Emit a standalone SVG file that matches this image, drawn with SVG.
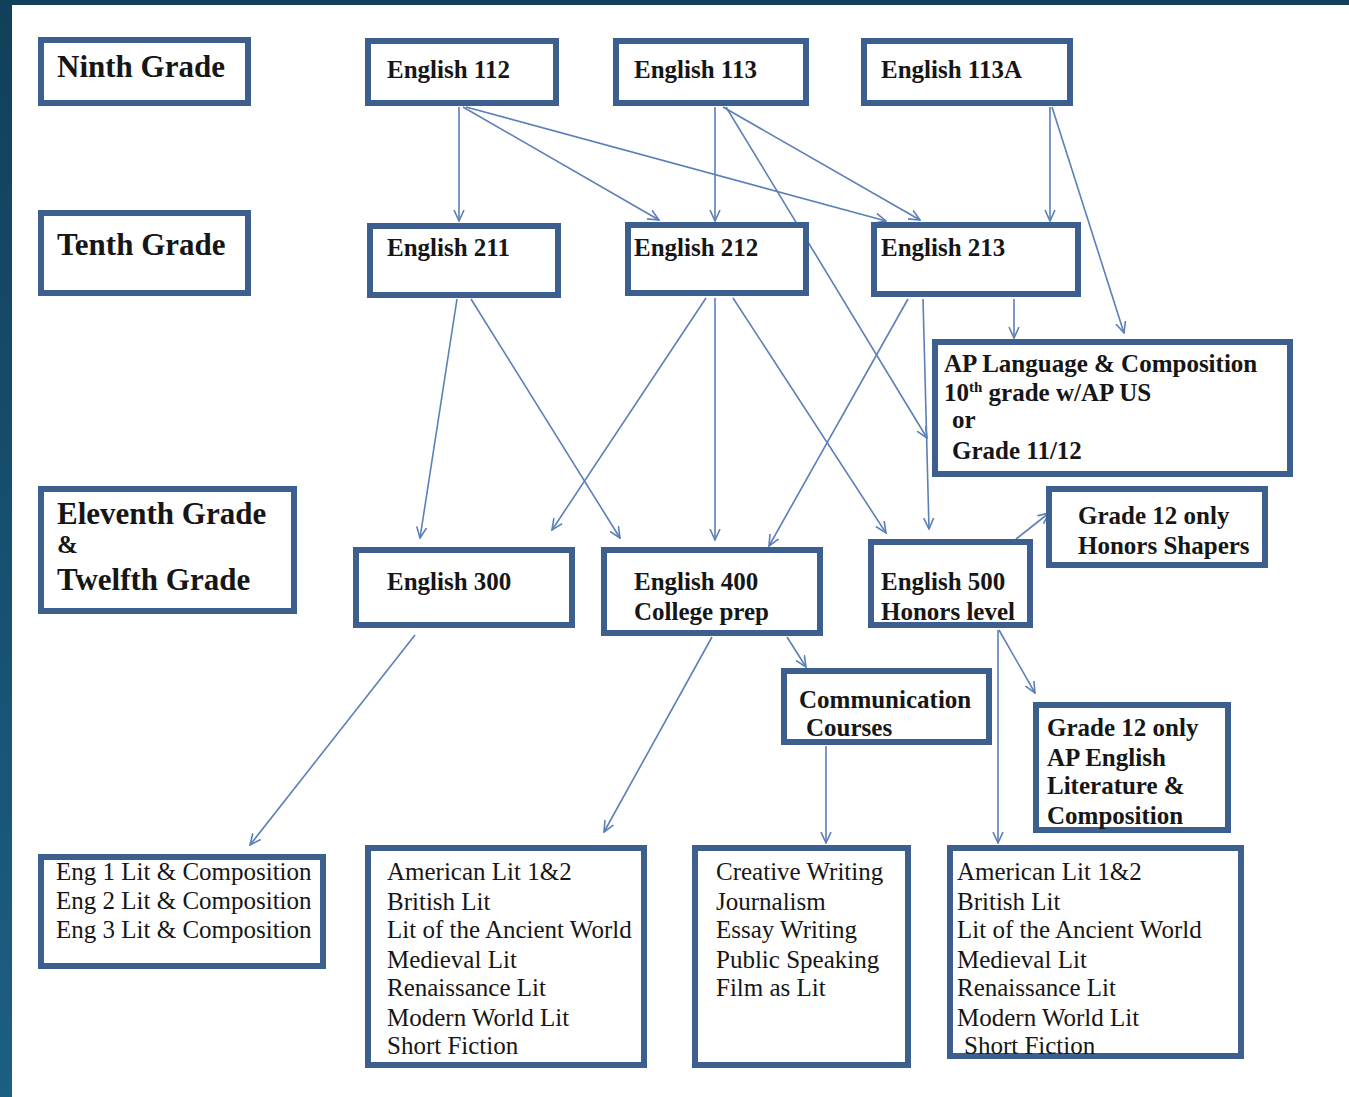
<svg xmlns="http://www.w3.org/2000/svg" width="1349" height="1097" viewBox="0 0 1349 1097">
<defs>
<linearGradient id="bg" x1="0" y1="0" x2="0" y2="1">
<stop offset="0" stop-color="#11405a"/>
<stop offset="1" stop-color="#1c5f84"/>
</linearGradient>
<marker id="a" viewBox="0 0 12 12" refX="11" refY="6" markerWidth="12" markerHeight="12" markerUnits="userSpaceOnUse" orient="auto">
<path d="M0,1 L11,6 L0,11" fill="none" stroke="#5b7fb8" stroke-width="1.6"/>
</marker>
<style>
.box{fill:#fff;stroke:#3d5f8f;stroke-width:6;}
.h{font-weight:bold;font-size:25px;fill:#161616;}
.big{font-size:31px;}
.t{font-size:25px;fill:#161616;}
.c{stroke:#5b7fb8;stroke-width:1.6;fill:none;marker-end:url(#a);}
</style>
</defs>
<rect x="0" y="0" width="1349" height="1097" fill="#fff"/>
<rect x="0" y="0" width="1349" height="5" fill="#11405a"/>
<rect x="0" y="0" width="12" height="1097" fill="url(#bg)"/>

<g id="connectors">
<line class="c" x1="459" y1="107" x2="459" y2="221"/>
<line class="c" x1="463" y1="107" x2="659" y2="220"/>
<line class="c" x1="466" y1="107" x2="886" y2="221"/>
<line class="c" x1="715" y1="107" x2="715" y2="221"/>
<line class="c" x1="723" y1="107" x2="920" y2="220"/>
<line class="c" x1="726" y1="107" x2="927" y2="438"/>
<line class="c" x1="1050" y1="107" x2="1050" y2="221"/>
<line class="c" x1="1052" y1="107" x2="1124" y2="333"/>
<line class="c" x1="1014" y1="299" x2="1014" y2="338"/>
<line class="c" x1="923" y1="299" x2="929" y2="529"/>
<line class="c" x1="908" y1="299" x2="769" y2="546"/>
<line class="c" x1="457" y1="299" x2="420" y2="538"/>
<line class="c" x1="471" y1="299" x2="620" y2="538"/>
<line class="c" x1="706" y1="298" x2="552" y2="530"/>
<line class="c" x1="715" y1="298" x2="715" y2="540"/>
<line class="c" x1="733" y1="298" x2="886" y2="533"/>
<line class="c" x1="1016" y1="539" x2="1049" y2="513"/>
<line class="c" x1="999" y1="630" x2="1035" y2="693"/>
<line class="c" x1="998" y1="630" x2="998" y2="843"/>
<line class="c" x1="787" y1="637" x2="806" y2="667"/>
<line class="c" x1="712" y1="637" x2="604" y2="832"/>
<line class="c" x1="415" y1="635" x2="250" y2="845"/>
<line class="c" x1="826" y1="746" x2="826" y2="843"/>
</g>

<g font-family="Liberation Serif, DejaVu Serif, serif">
<g id="ninth-grade"><rect class="box" x="41" y="40" width="207" height="63"/><text class="h big" x="57" y="77">Ninth Grade</text></g>
<g id="english-112"><rect class="box" x="368" y="41" width="188" height="62"/><text class="h" x="387" y="78">English 112</text></g>
<g id="english-113"><rect class="box" x="616" y="41" width="190" height="62"/><text class="h" x="634" y="78">English 113</text></g>
<g id="english-113a"><rect class="box" x="864" y="41" width="206" height="62"/><text class="h" x="881" y="78">English 113A</text></g>

<g id="tenth-grade"><rect class="box" x="41" y="213" width="207" height="80"/><text class="h big" x="57" y="255">Tenth Grade</text></g>
<g id="english-211"><rect class="box" x="370" y="226" width="188" height="69"/><text class="h" x="387" y="256">English 211</text></g>
<g id="english-212"><rect class="box" x="628" y="225" width="178" height="68"/><text class="h" x="634" y="256">English 212</text></g>
<g id="english-213"><rect class="box" x="874" y="225" width="204" height="69"/><text class="h" x="881" y="256">English 213</text></g>

<g id="ap-language"><rect class="box" x="935" y="342" width="355" height="132"/>
<text class="h" x="944" y="372">AP Language &amp; Composition</text>
<text class="h" x="944" y="401">10<tspan font-size="15" dy="-9">th</tspan><tspan dy="9"> grade w/AP US</tspan></text>
<text class="h" x="952" y="428">or</text>
<text class="h" x="952" y="459">Grade 11/12</text></g>

<g id="eleventh-twelfth-grade"><rect class="box" x="41" y="489" width="253" height="122"/>
<text class="h big" x="57" y="524">Eleventh Grade</text>
<text class="h" x="57" y="553">&amp;</text>
<text class="h big" x="57" y="590">Twelfth Grade</text></g>

<g id="english-300"><rect class="box" x="356" y="550" width="216" height="75"/><text class="h" x="387" y="590">English 300</text></g>
<g id="english-400"><rect class="box" x="604" y="550" width="216" height="83"/><text class="h" x="634" y="590">English 400</text><text class="h" x="634" y="620">College prep</text></g>
<g id="english-500"><rect class="box" x="871" y="542" width="159" height="83"/><text class="h" x="881" y="590">English 500</text><text class="h" x="881" y="620">Honors level</text></g>
<g id="honors-shapers"><rect class="box" x="1049" y="489" width="216" height="76"/><text class="h" x="1078" y="524">Grade 12 only</text><text class="h" x="1078" y="554">Honors Shapers</text></g>

<g id="communication"><rect class="box" x="784" y="671" width="205" height="71"/><text class="h" x="799" y="708">Communication</text><text class="h" x="806" y="736">Courses</text></g>
<g id="ap-english"><rect class="box" x="1036" y="705" width="192" height="125"/>
<text class="h" x="1047" y="736">Grade 12 only</text>
<text class="h" x="1047" y="766">AP English</text>
<text class="h" x="1047" y="794">Literature &amp;</text>
<text class="h" x="1047" y="824">Composition</text></g>

<g id="eng-lit-composition"><rect class="box" x="41" y="857" width="282" height="109"/>
<text class="t" x="56" y="880">Eng 1 Lit &amp; Composition</text>
<text class="t" x="56" y="909">Eng 2 Lit &amp; Composition</text>
<text class="t" x="56" y="938">Eng 3 Lit &amp; Composition</text></g>

<g id="lit-electives-400"><rect class="box" x="368" y="848" width="276" height="217"/>
<text class="t" x="387" y="880">American Lit 1&amp;2</text>
<text class="t" x="387" y="910">British Lit</text>
<text class="t" x="387" y="938">Lit of the Ancient World</text>
<text class="t" x="387" y="968">Medieval Lit</text>
<text class="t" x="387" y="996">Renaissance Lit</text>
<text class="t" x="387" y="1026">Modern World Lit</text>
<text class="t" x="387" y="1054">Short Fiction</text></g>

<g id="communication-electives"><rect class="box" x="695" y="848" width="213" height="217"/>
<text class="t" x="716" y="880">Creative Writing</text>
<text class="t" x="716" y="910">Journalism</text>
<text class="t" x="716" y="938">Essay Writing</text>
<text class="t" x="716" y="968">Public Speaking</text>
<text class="t" x="716" y="996">Film as Lit</text></g>

<g id="lit-electives-500"><rect class="box" x="950" y="848" width="291" height="208"/>
<text class="t" x="957" y="880">American Lit 1&amp;2</text>
<text class="t" x="957" y="910">British Lit</text>
<text class="t" x="957" y="938">Lit of the Ancient World</text>
<text class="t" x="957" y="968">Medieval Lit</text>
<text class="t" x="957" y="996">Renaissance Lit</text>
<text class="t" x="957" y="1026">Modern World Lit</text>
<text class="t" x="964" y="1054">Short Fiction</text></g>
</g>
</svg>
